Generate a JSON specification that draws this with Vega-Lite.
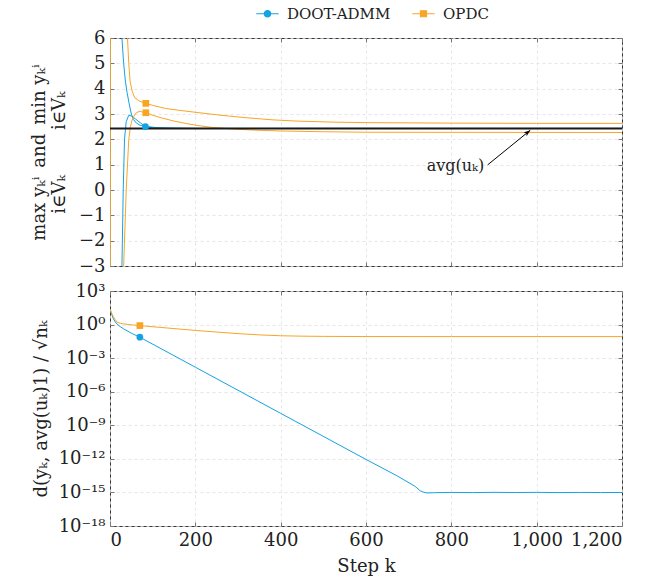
{
  "$schema": "https://vega.github.io/schema/vega-lite/v6.json",
  "background": "white",
  "padding": {"left": 29, "top": 5, "right": 5, "bottom": 5},
  "config": {
    "font": "DejaVu Serif",
    "view": {"stroke": "#333", "strokeWidth": 1},
    "axis": {
      "grid": true, "gridColor": "#e0e0e0", "gridDash": [3, 3], "gridWidth": 0.8,
      "domain": false, "tickColor": "#777", "tickSize": -4, "tickWidth": 1,
      "labelFont": "DejaVu Serif", "labelFontSize": 18, "labelColor": "#222", "labelPadding": 9,
      "titleFont": "DejaVu Serif", "titleFontSize": 18, "titleFontWeight": "normal", "titleColor": "#222"
    },
    "legend": {"labelFont": "DejaVu Serif"},
    "text": {"font": "DejaVu Serif"}
  },
  "datasets": {
    "top": [
      {"method": "DOOT-ADMM", "curve": "dA", "k": 0, "y": -30},
      {"method": "DOOT-ADMM", "curve": "dA", "k": 1, "y": 100},
      {"method": "DOOT-ADMM", "curve": "dA", "k": 8, "y": 30},
      {"method": "DOOT-ADMM", "curve": "dA", "k": 15, "y": 15},
      {"method": "DOOT-ADMM", "curve": "dA", "k": 22, "y": 9},
      {"method": "DOOT-ADMM", "curve": "dA", "k": 28, "y": 6},
      {"method": "DOOT-ADMM", "curve": "dA", "k": 32, "y": 5},
      {"method": "DOOT-ADMM", "curve": "dA", "k": 36, "y": 4.3},
      {"method": "DOOT-ADMM", "curve": "dA", "k": 40, "y": 3.85},
      {"method": "DOOT-ADMM", "curve": "dA", "k": 45, "y": 3.4},
      {"method": "DOOT-ADMM", "curve": "dA", "k": 50, "y": 3.0},
      {"method": "DOOT-ADMM", "curve": "dA", "k": 55, "y": 2.78},
      {"method": "DOOT-ADMM", "curve": "dA", "k": 62, "y": 2.64},
      {"method": "DOOT-ADMM", "curve": "dA", "k": 70, "y": 2.56},
      {"method": "DOOT-ADMM", "curve": "dA", "k": 83, "y": 2.5},
      {"method": "DOOT-ADMM", "curve": "dA", "k": 100, "y": 2.46},
      {"method": "DOOT-ADMM", "curve": "dA", "k": 130, "y": 2.44},
      {"method": "DOOT-ADMM", "curve": "dA", "k": 200, "y": 2.43},
      {"method": "DOOT-ADMM", "curve": "dA", "k": 1200, "y": 2.43},
      {"method": "DOOT-ADMM", "curve": "dB", "k": 0, "y": 30},
      {"method": "DOOT-ADMM", "curve": "dB", "k": 1, "y": -100},
      {"method": "DOOT-ADMM", "curve": "dB", "k": 8, "y": -30},
      {"method": "DOOT-ADMM", "curve": "dB", "k": 15, "y": -15},
      {"method": "DOOT-ADMM", "curve": "dB", "k": 22, "y": -8},
      {"method": "DOOT-ADMM", "curve": "dB", "k": 28, "y": -3},
      {"method": "DOOT-ADMM", "curve": "dB", "k": 31, "y": 0},
      {"method": "DOOT-ADMM", "curve": "dB", "k": 34, "y": 2},
      {"method": "DOOT-ADMM", "curve": "dB", "k": 38, "y": 2.7},
      {"method": "DOOT-ADMM", "curve": "dB", "k": 44, "y": 2.95},
      {"method": "DOOT-ADMM", "curve": "dB", "k": 50, "y": 2.92},
      {"method": "DOOT-ADMM", "curve": "dB", "k": 60, "y": 2.8},
      {"method": "DOOT-ADMM", "curve": "dB", "k": 75, "y": 2.6},
      {"method": "DOOT-ADMM", "curve": "dB", "k": 90, "y": 2.5},
      {"method": "DOOT-ADMM", "curve": "dB", "k": 110, "y": 2.46},
      {"method": "DOOT-ADMM", "curve": "dB", "k": 150, "y": 2.44},
      {"method": "DOOT-ADMM", "curve": "dB", "k": 200, "y": 2.43},
      {"method": "DOOT-ADMM", "curve": "dB", "k": 1200, "y": 2.43},
      {"method": "OPDC", "curve": "oA", "k": 0, "y": -30},
      {"method": "OPDC", "curve": "oA", "k": 1, "y": 100},
      {"method": "OPDC", "curve": "oA", "k": 10, "y": 40},
      {"method": "OPDC", "curve": "oA", "k": 20, "y": 17},
      {"method": "OPDC", "curve": "oA", "k": 30, "y": 10},
      {"method": "OPDC", "curve": "oA", "k": 36, "y": 7.5},
      {"method": "OPDC", "curve": "oA", "k": 41, "y": 6},
      {"method": "OPDC", "curve": "oA", "k": 44, "y": 5},
      {"method": "OPDC", "curve": "oA", "k": 47, "y": 4.3},
      {"method": "OPDC", "curve": "oA", "k": 52, "y": 3.9},
      {"method": "OPDC", "curve": "oA", "k": 58, "y": 3.64},
      {"method": "OPDC", "curve": "oA", "k": 70, "y": 3.5},
      {"method": "OPDC", "curve": "oA", "k": 84, "y": 3.42},
      {"method": "OPDC", "curve": "oA", "k": 100, "y": 3.34},
      {"method": "OPDC", "curve": "oA", "k": 130, "y": 3.22},
      {"method": "OPDC", "curve": "oA", "k": 160, "y": 3.15},
      {"method": "OPDC", "curve": "oA", "k": 204, "y": 3.06},
      {"method": "OPDC", "curve": "oA", "k": 260, "y": 2.95},
      {"method": "OPDC", "curve": "oA", "k": 321, "y": 2.85},
      {"method": "OPDC", "curve": "oA", "k": 380, "y": 2.77},
      {"method": "OPDC", "curve": "oA", "k": 438, "y": 2.72},
      {"method": "OPDC", "curve": "oA", "k": 520, "y": 2.68},
      {"method": "OPDC", "curve": "oA", "k": 600, "y": 2.66},
      {"method": "OPDC", "curve": "oA", "k": 800, "y": 2.64},
      {"method": "OPDC", "curve": "oA", "k": 1000, "y": 2.63},
      {"method": "OPDC", "curve": "oA", "k": 1200, "y": 2.63},
      {"method": "OPDC", "curve": "oB", "k": 0, "y": 30},
      {"method": "OPDC", "curve": "oB", "k": 1, "y": -100},
      {"method": "OPDC", "curve": "oB", "k": 10, "y": -40},
      {"method": "OPDC", "curve": "oB", "k": 20, "y": -15},
      {"method": "OPDC", "curve": "oB", "k": 28, "y": -6},
      {"method": "OPDC", "curve": "oB", "k": 32, "y": -3},
      {"method": "OPDC", "curve": "oB", "k": 38, "y": 0},
      {"method": "OPDC", "curve": "oB", "k": 44, "y": 2},
      {"method": "OPDC", "curve": "oB", "k": 48, "y": 2.5},
      {"method": "OPDC", "curve": "oB", "k": 51, "y": 2.72},
      {"method": "OPDC", "curve": "oB", "k": 56, "y": 2.92},
      {"method": "OPDC", "curve": "oB", "k": 63, "y": 3.07},
      {"method": "OPDC", "curve": "oB", "k": 70, "y": 3.1},
      {"method": "OPDC", "curve": "oB", "k": 84, "y": 3.05},
      {"method": "OPDC", "curve": "oB", "k": 100, "y": 2.95},
      {"method": "OPDC", "curve": "oB", "k": 120, "y": 2.85},
      {"method": "OPDC", "curve": "oB", "k": 150, "y": 2.72},
      {"method": "OPDC", "curve": "oB", "k": 180, "y": 2.62},
      {"method": "OPDC", "curve": "oB", "k": 204, "y": 2.55},
      {"method": "OPDC", "curve": "oB", "k": 240, "y": 2.47},
      {"method": "OPDC", "curve": "oB", "k": 280, "y": 2.42},
      {"method": "OPDC", "curve": "oB", "k": 330, "y": 2.37},
      {"method": "OPDC", "curve": "oB", "k": 400, "y": 2.33},
      {"method": "OPDC", "curve": "oB", "k": 500, "y": 2.3},
      {"method": "OPDC", "curve": "oB", "k": 600, "y": 2.28},
      {"method": "OPDC", "curve": "oB", "k": 1200, "y": 2.27}
    ],
    "topMarks": [
      {"method": "DOOT-ADMM", "k": 83, "y": 2.5},
      {"method": "OPDC", "k": 84, "y": 3.42},
      {"method": "OPDC", "k": 84, "y": 3.05}
    ],
    "avg": [{"avg": 2.43}],
    "note": [{"tx": 877, "ty": 0.95, "label": "avg(uₖ)", "x1": 885, "y1": 0.99, "x2": 985, "y2": 2.36}],
    "bottom": [
      {"method": "DOOT-ADMM", "k": 0, "d": 25},
      {"method": "DOOT-ADMM", "k": 4, "d": 8},
      {"method": "DOOT-ADMM", "k": 8, "d": 3.2},
      {"method": "DOOT-ADMM", "k": 12, "d": 1.8},
      {"method": "DOOT-ADMM", "k": 16, "d": 1.15},
      {"method": "DOOT-ADMM", "k": 24, "d": 0.65},
      {"method": "DOOT-ADMM", "k": 32, "d": 0.41},
      {"method": "DOOT-ADMM", "k": 50, "d": 0.17},
      {"method": "DOOT-ADMM", "k": 70, "d": 0.074},
      {"method": "DOOT-ADMM", "k": 200, "d": 1.55e-4},
      {"method": "DOOT-ADMM", "k": 400, "d": 1.17e-8},
      {"method": "DOOT-ADMM", "k": 600, "d": 8.9e-13},
      {"method": "DOOT-ADMM", "k": 672, "d": 3.16e-14},
      {"method": "DOOT-ADMM", "k": 715, "d": 3.5e-15},
      {"method": "DOOT-ADMM", "k": 727, "d": 1.4e-15},
      {"method": "DOOT-ADMM", "k": 735, "d": 1.05e-15},
      {"method": "DOOT-ADMM", "k": 743, "d": 8.9e-16},
      {"method": "DOOT-ADMM", "k": 760, "d": 9.5e-16},
      {"method": "DOOT-ADMM", "k": 800, "d": 1.0e-15},
      {"method": "DOOT-ADMM", "k": 850, "d": 9.7e-16},
      {"method": "DOOT-ADMM", "k": 900, "d": 1.02e-15},
      {"method": "DOOT-ADMM", "k": 950, "d": 9.8e-16},
      {"method": "DOOT-ADMM", "k": 1000, "d": 1.01e-15},
      {"method": "DOOT-ADMM", "k": 1050, "d": 9.7e-16},
      {"method": "DOOT-ADMM", "k": 1100, "d": 1.0e-15},
      {"method": "DOOT-ADMM", "k": 1150, "d": 9.8e-16},
      {"method": "DOOT-ADMM", "k": 1200, "d": 9.9e-16},
      {"method": "OPDC", "k": 0, "d": 25},
      {"method": "OPDC", "k": 4, "d": 10},
      {"method": "OPDC", "k": 8, "d": 5},
      {"method": "OPDC", "k": 12, "d": 2.8},
      {"method": "OPDC", "k": 16, "d": 1.7},
      {"method": "OPDC", "k": 24, "d": 1.3},
      {"method": "OPDC", "k": 32, "d": 1.15},
      {"method": "OPDC", "k": 50, "d": 0.95},
      {"method": "OPDC", "k": 70, "d": 0.81},
      {"method": "OPDC", "k": 120, "d": 0.55},
      {"method": "OPDC", "k": 200, "d": 0.3},
      {"method": "OPDC", "k": 300, "d": 0.155},
      {"method": "OPDC", "k": 350, "d": 0.12},
      {"method": "OPDC", "k": 400, "d": 0.1},
      {"method": "OPDC", "k": 450, "d": 0.092},
      {"method": "OPDC", "k": 500, "d": 0.088},
      {"method": "OPDC", "k": 600, "d": 0.085},
      {"method": "OPDC", "k": 800, "d": 0.084},
      {"method": "OPDC", "k": 1200, "d": 0.084}
    ],
    "bottomMarks": [
      {"method": "DOOT-ADMM", "k": 70, "d": 0.074},
      {"method": "OPDC", "k": 70, "d": 0.81}
    ]
  },
  "spacing": 5,
  "resolve": {"scale": {"color": "independent"}, "legend": {"color": "independent"}},
  "vconcat": [
    {
      "width": 512,
      "height": 228,
      "resolve": {"axis": {"x": "independent", "y": "independent"}},
      "layer": [
        {
          "data": {"name": "top"},
          "mark": {"type": "line", "strokeWidth": 1, "clip": true},
          "encoding": {
            "x": {"field": "k", "type": "quantitative", "scale": {"domain": [0, 1200], "nice": false},
                  "axis": {"orient": "bottom", "labels": false, "title": null, "values": [0, 200, 400, 600, 800, 1000, 1200]}},
            "y": {"field": "y", "type": "quantitative", "scale": {"domain": [-3, 6], "nice": false},
                  "axis": {"orient": "left", "values": [-3, -2, -1, 0, 1, 2, 3, 4, 5, 6], "titleLineHeight": 20, "titlePadding": 10,
                           "labelFont": "DejaVu Serif",
                           "encode": {"labels": {"update": {"font": {"value": "DejaVu Serif"}}}},
                           "title": ["max yₖⁱ\u2002and\u2002min yₖⁱ", "i∈Vₖ\u2003\u2003\u2002i∈Vₖ\u2003"]}},
            "color": {"field": "method", "type": "nominal",
                      "scale": {"domain": ["DOOT-ADMM", "OPDC"], "range": ["#13a3e3", "#f8a526"]},
                      "legend": {"orient": "none", "legendX": 150, "legendY": -32, "direction": "horizontal", "title": null,
                                 "labelFont": "DejaVu Serif", "labelFontSize": 15, "labelColor": "#222", "symbolSize": 64,
                                 "symbolStrokeWidth": 1.2, "labelOffset": 12, "columnPadding": 18,
                                 "encode": {
                                   "labels": {"update": {"font": {"value": "DejaVu Serif"}}},
                                   "symbols": {"update": {
                                   "shape": {"signal": "datum.value === 'OPDC' ? 'M-2.8,0H2.8M-0.75,-0.75H0.75V0.75H-0.75Z' : 'M-2.8,0H2.8M0.8,0A0.8,0.8 0 1,1 -0.8,0A0.8,0.8 0 1,1 0.8,0'"},
                                   "fill": {"signal": "datum.value === 'OPDC' ? '#f8a526' : '#13a3e3'"},
                                   "stroke": {"signal": "datum.value === 'OPDC' ? '#f8a526' : '#13a3e3'"},
                                   "strokeWidth": {"value": 1.2}
                                 }}}}},
            "detail": {"field": "curve"}
          }
        },
        {
          "data": {"name": "avg"},
          "mark": {"type": "rule", "color": "#1a1a1a", "strokeWidth": 2},
          "encoding": {"y": {"field": "avg", "type": "quantitative", "axis": null}}
        },
        {
          "data": {"name": "note"},
          "mark": {"type": "rule", "color": "#000", "strokeWidth": 1},
          "encoding": {
            "x": {"field": "x1", "type": "quantitative", "axis": null},
            "x2": {"field": "x2"},
            "y": {"field": "y1", "type": "quantitative", "axis": null},
            "y2": {"field": "y2"}
          }
        },
        {
          "data": {"name": "note"},
          "mark": {"type": "point", "filled": true, "color": "#000", "opacity": 1, "size": 90, "angle": 51,
                   "shape": "M0,0L-0.5,1.4L0,1.05L0.5,1.4Z"},
          "encoding": {
            "x": {"field": "x2", "type": "quantitative", "axis": null},
            "y": {"field": "y2", "type": "quantitative", "axis": null}
          }
        },
        {
          "data": {"name": "note"},
          "mark": {"type": "text", "align": "right", "baseline": "middle", "fontSize": 16, "font": "DejaVu Serif", "color": "#222"},
          "encoding": {
            "x": {"field": "tx", "type": "quantitative", "axis": null},
            "y": {"field": "ty", "type": "quantitative", "axis": null},
            "text": {"field": "label"}
          }
        },
        {
          "data": {"name": "topMarks"},
          "transform": [{"filter": "datum.method === 'DOOT-ADMM'"}],
          "mark": {"type": "point", "filled": true, "opacity": 1, "size": 45, "shape": "circle", "color": "#13a3e3"},
          "encoding": {
            "x": {"field": "k", "type": "quantitative", "axis": {"orient": "top", "labels": false, "grid": false, "title": null, "values": [0, 200, 400, 600, 800, 1000, 1200]}},
            "y": {"field": "y", "type": "quantitative", "axis": {"orient": "right", "labels": false, "grid": false, "title": null, "values": [-3, -2, -1, 0, 1, 2, 3, 4, 5, 6]}}
          }
        },
        {
          "data": {"name": "topMarks"},
          "transform": [{"filter": "datum.method === 'OPDC'"}],
          "mark": {"type": "point", "filled": true, "opacity": 1, "size": 45, "shape": "square", "color": "#f8a526"},
          "encoding": {
            "x": {"field": "k", "type": "quantitative", "axis": null},
            "y": {"field": "y", "type": "quantitative", "axis": null}
          }
        }
      ]
    },
    {
      "width": 512,
      "height": 235,
      "resolve": {"axis": {"x": "independent", "y": "independent"}},
      "layer": [
        {
          "data": {"name": "bottom"},
          "mark": {"type": "line", "strokeWidth": 1, "clip": true},
          "encoding": {
            "x": {"field": "k", "type": "quantitative", "scale": {"domain": [0, 1200], "nice": false},
                  "axis": {"orient": "bottom", "format": ",d", "title": "Step k", "titlePadding": 8, "values": [0, 200, 400, 600, 800, 1000, 1200],
                           "labelFont": "DejaVu Serif",
                           "encode": {"labels": {"update": {"font": {"value": "DejaVu Serif"}}}}}},
            "y": {"field": "d", "type": "quantitative", "scale": {"type": "log", "domain": [1e-18, 1000], "nice": false},
                  "axis": {"orient": "left", "values": [1000, 1, 0.001, 1e-6, 1e-9, 1e-12, 1e-15, 1e-18], "titlePadding": 8,
                           "labelFont": "DejaVu Serif",
                           "encode": {"labels": {"update": {"font": {"value": "DejaVu Serif"}}}},
                           "title": "d(yₖ, avg(uₖ)1) / √nₖ",
                           "labelExpr": "datum.value >= 100 ? '10³' : datum.value >= 0.1 ? '10⁰' : datum.value >= 1e-4 ? '10⁻³' : datum.value >= 1e-7 ? '10⁻⁶' : datum.value >= 1e-10 ? '10⁻⁹' : datum.value >= 1e-13 ? '10⁻¹²' : datum.value >= 1e-16 ? '10⁻¹⁵' : '10⁻¹⁸'"}},
            "color": {"field": "method", "type": "nominal", "scale": {"domain": ["DOOT-ADMM", "OPDC"], "range": ["#13a3e3", "#f8a526"]}, "legend": null}
          }
        },
        {
          "data": {"name": "bottomMarks"},
          "transform": [{"filter": "datum.method === 'DOOT-ADMM'"}],
          "mark": {"type": "point", "filled": true, "opacity": 1, "size": 45, "shape": "circle", "color": "#13a3e3"},
          "encoding": {
            "x": {"field": "k", "type": "quantitative", "axis": {"orient": "top", "labels": false, "grid": false, "title": null, "values": [0, 200, 400, 600, 800, 1000, 1200]}},
            "y": {"field": "d", "type": "quantitative", "axis": {"orient": "right", "labels": false, "grid": false, "title": null, "values": [1000, 1, 0.001, 1e-6, 1e-9, 1e-12, 1e-15, 1e-18]}}
          }
        },
        {
          "data": {"name": "bottomMarks"},
          "transform": [{"filter": "datum.method === 'OPDC'"}],
          "mark": {"type": "point", "filled": true, "opacity": 1, "size": 45, "shape": "square", "color": "#f8a526"},
          "encoding": {
            "x": {"field": "k", "type": "quantitative", "axis": null},
            "y": {"field": "d", "type": "quantitative", "axis": null}
          }
        }
      ]
    }
  ]
}
